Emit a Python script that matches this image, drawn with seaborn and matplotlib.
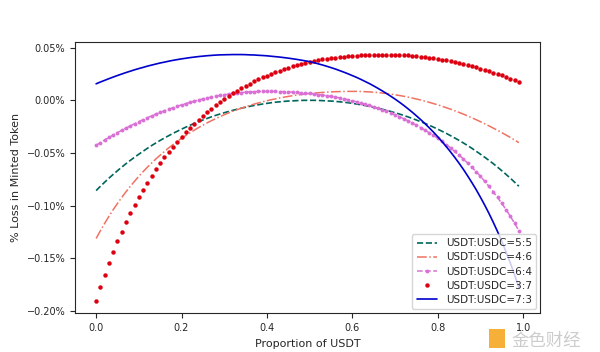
import numpy as np
import pandas as pd
import matplotlib
matplotlib.use('Agg')
import matplotlib.pyplot as plt
import seaborn as sns
from matplotlib.ticker import PercentFormatter
from matplotlib.patches import Rectangle

sns.set_style('ticks')
plt.rcParams['font.family'] = ['DejaVu Sans', 'Noto Sans CJK SC']

# proportion of USDT in the deposit (0.00 .. 0.99)
proportion = np.round(np.arange(0, 1, 0.01), 2)

series_labels = ['USDT:USDC=5:5', 'USDT:USDC=4:6', 'USDT:USDC=6:4',
                 'USDT:USDC=3:7', 'USDT:USDC=7:3']

# % loss in minted token
loss_55 = [-0.0858, -0.0817, -0.0778, -0.0740, -0.0704, -0.0669, -0.0635, -0.0602, -0.0571, -0.0541,
           -0.0512, -0.0484, -0.0456, -0.0430, -0.0405, -0.0381, -0.0358, -0.0336, -0.0314, -0.0294,
           -0.0274, -0.0255, -0.0237, -0.0219, -0.0203, -0.0187, -0.0172, -0.0157, -0.0143, -0.0130,
           -0.0118, -0.0106, -0.0095, -0.0085, -0.0075, -0.0066, -0.0057, -0.0049, -0.0042, -0.0035,
           -0.0029, -0.0023, -0.0018, -0.0014, -0.0010, -0.0007, -0.0005, -0.0003, -0.0001, 0.0000,
           0.0000, 0.0000, -0.0001, -0.0003, -0.0005, -0.0007, -0.0010, -0.0014, -0.0018, -0.0023,
           -0.0029, -0.0035, -0.0042, -0.0049, -0.0057, -0.0066, -0.0075, -0.0085, -0.0095, -0.0106,
           -0.0118, -0.0130, -0.0143, -0.0157, -0.0172, -0.0187, -0.0203, -0.0219, -0.0237, -0.0255,
           -0.0274, -0.0294, -0.0314, -0.0336, -0.0358, -0.0381, -0.0405, -0.0430, -0.0456, -0.0484,
           -0.0512, -0.0541, -0.0571, -0.0602, -0.0635, -0.0669, -0.0704, -0.0740, -0.0778, -0.0817]

loss_46 = [-0.1313, -0.1239, -0.1169, -0.1102, -0.1039, -0.0980, -0.0923, -0.0869, -0.0818, -0.0769,
           -0.0722, -0.0678, -0.0636, -0.0596, -0.0557, -0.0521, -0.0486, -0.0452, -0.0421, -0.0390,
           -0.0361, -0.0334, -0.0308, -0.0283, -0.0259, -0.0236, -0.0214, -0.0194, -0.0174, -0.0155,
           -0.0137, -0.0120, -0.0104, -0.0089, -0.0075, -0.0061, -0.0048, -0.0036, -0.0025, -0.0014,
           -0.0004, 0.0006, 0.0014, 0.0023, 0.0030, 0.0037, 0.0044, 0.0050, 0.0055, 0.0060,
           0.0065, 0.0069, 0.0072, 0.0075, 0.0078, 0.0080, 0.0082, 0.0083, 0.0084, 0.0085,
           0.0085, 0.0085, 0.0084, 0.0082, 0.0080, 0.0077, 0.0074, 0.0069, 0.0065, 0.0059,
           0.0053, 0.0046, 0.0039, 0.0031, 0.0022, 0.0013, 0.0003, -0.0008, -0.0019, -0.0031,
           -0.0043, -0.0056, -0.0070, -0.0084, -0.0099, -0.0115, -0.0131, -0.0148, -0.0166, -0.0184,
           -0.0203, -0.0223, -0.0243, -0.0264, -0.0285, -0.0307, -0.0330, -0.0353, -0.0377, -0.0402]

loss_64 = [-0.0427, -0.0402, -0.0377, -0.0353, -0.0330, -0.0307, -0.0285, -0.0264, -0.0243, -0.0223,
           -0.0203, -0.0184, -0.0166, -0.0148, -0.0131, -0.0115, -0.0099, -0.0084, -0.0070, -0.0056,
           -0.0043, -0.0031, -0.0019, -0.0008, 0.0003, 0.0013, 0.0022, 0.0031, 0.0039, 0.0046,
           0.0053, 0.0059, 0.0065, 0.0069, 0.0074, 0.0077, 0.0080, 0.0082, 0.0084, 0.0085,
           0.0085, 0.0085, 0.0084, 0.0083, 0.0082, 0.0080, 0.0078, 0.0075, 0.0072, 0.0069,
           0.0065, 0.0060, 0.0055, 0.0050, 0.0044, 0.0037, 0.0030, 0.0023, 0.0014, 0.0006,
           -0.0004, -0.0014, -0.0025, -0.0036, -0.0048, -0.0061, -0.0075, -0.0089, -0.0104, -0.0120,
           -0.0137, -0.0155, -0.0174, -0.0194, -0.0214, -0.0236, -0.0259, -0.0283, -0.0308, -0.0334,
           -0.0361, -0.0390, -0.0421, -0.0452, -0.0486, -0.0521, -0.0557, -0.0596, -0.0636, -0.0678,
           -0.0722, -0.0769, -0.0818, -0.0869, -0.0923, -0.0980, -0.1039, -0.1102, -0.1169, -0.1239]

loss_37 = [-0.1907, -0.1779, -0.1659, -0.1546, -0.1440, -0.1341, -0.1247, -0.1159, -0.1075, -0.0996,
           -0.0921, -0.0849, -0.0782, -0.0718, -0.0656, -0.0598, -0.0543, -0.0490, -0.0440, -0.0392,
           -0.0346, -0.0302, -0.0261, -0.0221, -0.0183, -0.0147, -0.0112, -0.0079, -0.0047, -0.0017,
           0.0012, 0.0039, 0.0065, 0.0090, 0.0114, 0.0137, 0.0159, 0.0179, 0.0199, 0.0218,
           0.0235, 0.0252, 0.0268, 0.0283, 0.0298, 0.0311, 0.0324, 0.0336, 0.0347, 0.0358,
           0.0368, 0.0375, 0.0382, 0.0389, 0.0395, 0.0401, 0.0406, 0.0411, 0.0415, 0.0419,
           0.0423, 0.0426, 0.0428, 0.0431, 0.0432, 0.0434, 0.0435, 0.0435, 0.0435, 0.0434,
           0.0433, 0.0432, 0.0430, 0.0427, 0.0424, 0.0420, 0.0416, 0.0411, 0.0406, 0.0400,
           0.0394, 0.0387, 0.0380, 0.0372, 0.0363, 0.0355, 0.0345, 0.0335, 0.0325, 0.0313,
           0.0302, 0.0290, 0.0277, 0.0264, 0.0250, 0.0236, 0.0221, 0.0206, 0.0190, 0.0174]

loss_73 = [0.0157, 0.0174, 0.0190, 0.0206, 0.0221, 0.0236, 0.0250, 0.0264, 0.0277, 0.0290,
           0.0302, 0.0313, 0.0325, 0.0335, 0.0345, 0.0355, 0.0363, 0.0372, 0.0380, 0.0387,
           0.0394, 0.0400, 0.0406, 0.0411, 0.0416, 0.0420, 0.0424, 0.0427, 0.0430, 0.0432,
           0.0433, 0.0434, 0.0435, 0.0435, 0.0435, 0.0434, 0.0432, 0.0431, 0.0428, 0.0426,
           0.0423, 0.0419, 0.0415, 0.0411, 0.0406, 0.0401, 0.0395, 0.0389, 0.0382, 0.0375,
           0.0368, 0.0358, 0.0347, 0.0336, 0.0324, 0.0311, 0.0298, 0.0283, 0.0268, 0.0252,
           0.0235, 0.0218, 0.0199, 0.0179, 0.0159, 0.0137, 0.0114, 0.0090, 0.0065, 0.0039,
           0.0012, -0.0017, -0.0047, -0.0079, -0.0112, -0.0147, -0.0183, -0.0221, -0.0261, -0.0302,
           -0.0346, -0.0392, -0.0440, -0.0490, -0.0543, -0.0598, -0.0656, -0.0718, -0.0782, -0.0849,
           -0.0921, -0.0996, -0.1075, -0.1159, -0.1247, -0.1341, -0.1440, -0.1546, -0.1659, -0.1779]

df = pd.DataFrame({'x': proportion, 'r55': loss_55, 'r46': loss_46, 'r64': loss_64,
                   'r37': loss_37, 'r73': loss_73})

fig, ax = plt.subplots(figsize=(6, 3.52), dpi=100)

sns.lineplot(data=df, x='x', y='r55', ax=ax, color='#00665c', linestyle='--',
             linewidth=1.2, label=series_labels[0])
sns.lineplot(data=df, x='x', y='r46', ax=ax, color='#f07262', linestyle='-.',
             linewidth=1.1, label=series_labels[1])
sns.lineplot(data=df, x='x', y='r64', ax=ax, color='orchid', linestyle='--',
             linewidth=1.1, marker='o', markersize=2.8, markeredgewidth=0,
             label=series_labels[2])
sns.lineplot(data=df, x='x', y='r37', ax=ax, color='#dc0010', linestyle='none',
             marker='o', markersize=3.2, markeredgewidth=0, label=series_labels[3])
sns.lineplot(data=df, x='x', y='r73', ax=ax, color='mediumblue',
             linewidth=1.2, label=series_labels[4])

ax.yaxis.set_major_formatter(PercentFormatter(xmax=100, decimals=2))
ax.set_xlabel('Proportion of USDT', fontsize=8)
ax.set_ylabel('% Loss in Minted Token', fontsize=8)
ax.tick_params(labelsize=7, length=3.5, width=0.8)
for sp in ax.spines.values():
    sp.set_linewidth(0.8)
    sp.set_color('0.15')

ax.legend(loc='lower right', fontsize=7.5, frameon=True, framealpha=0.8,
          edgecolor='0.8', labelspacing=0.4, borderaxespad=0.4)

# site watermark, kept just below the 1.0 tick label
fig.patches.append(Rectangle((0.815, 0.012), 0.026, 0.052, transform=fig.transFigure,
                             facecolor='#f5a623', edgecolor='none', alpha=0.9))
fig.text(0.852, 0.03, '金色财经', fontsize=12.5, color='#cccccc',
         family=['Noto Sans CJK SC'], ha='left', va='center')

fig.savefig('out.png', dpi=100)
